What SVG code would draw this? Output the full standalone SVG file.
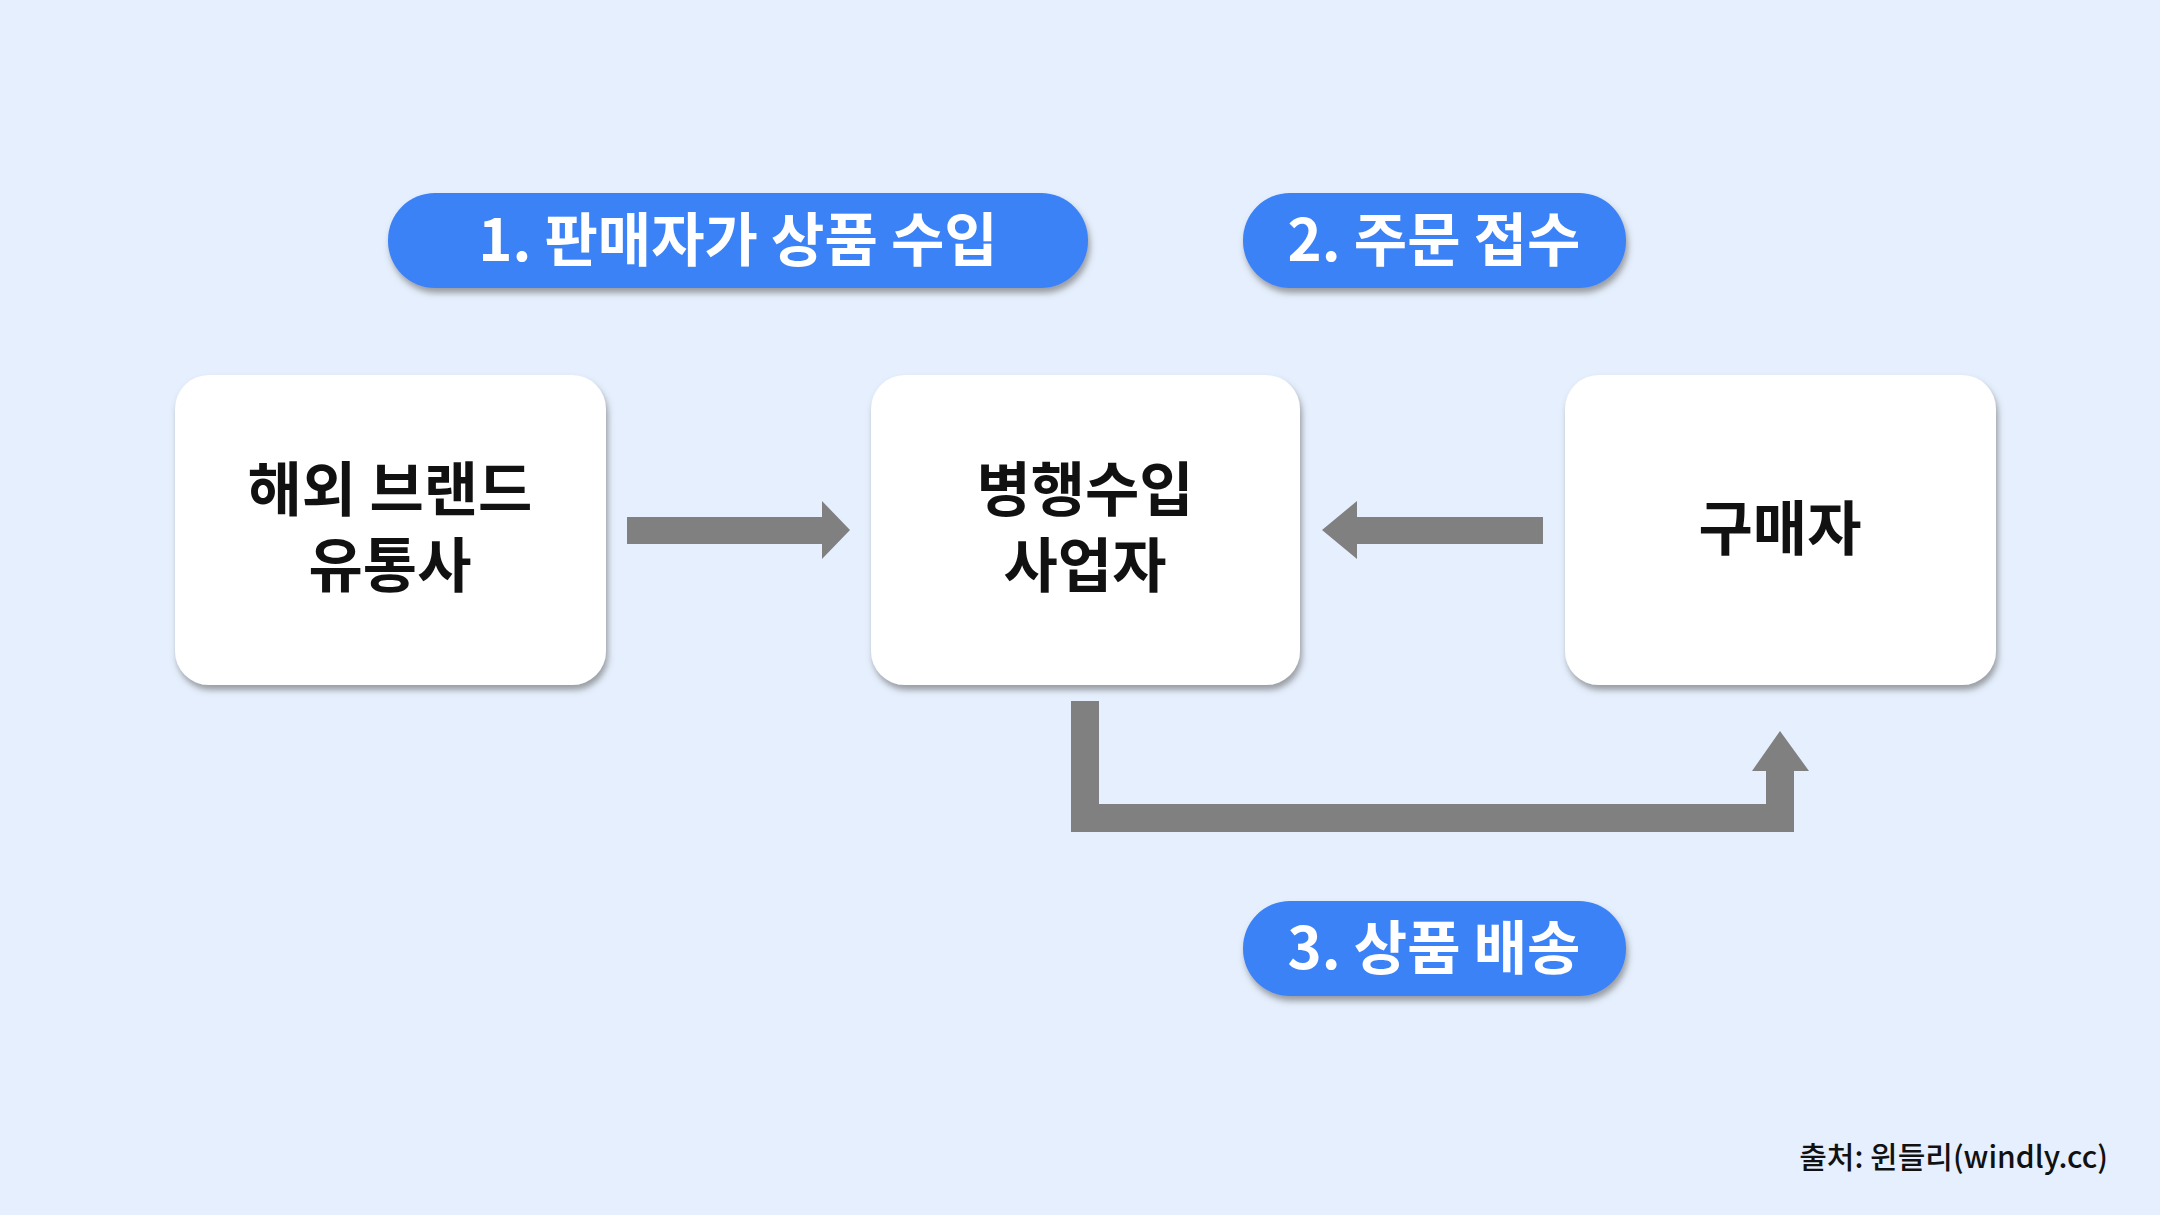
<svg xmlns="http://www.w3.org/2000/svg" width="2160" height="1215" viewBox="0 0 2160 1215">
<defs>
<filter id="sh" x="-10%" y="-10%" width="120%" height="130%"><feDropShadow dx="2" dy="5" stdDeviation="3" flood-color="#666" flood-opacity="0.6"/></filter>
<style>
.box{fill:#fff;filter:url(#sh)}
.pill{fill:#3b82f6;filter:url(#sh)}
.bt{font-family:"Noto Sans CJK KR","Noto Sans",sans-serif;font-weight:bold;font-size:59px;fill:#111;text-anchor:middle}
.pt{font-family:"Noto Sans CJK KR","Noto Sans",sans-serif;font-weight:bold;font-size:58px;fill:#fff;text-anchor:middle}
.ar{fill:#808080}
</style>
</defs>
<rect width="2160" height="1215" fill="#e5effd"/>
<g id="pill1"><rect class="pill" x="388" y="193" width="700" height="95" rx="47"/><text class="pt" x="738" y="261">1. 판매자가 상품 수입</text></g>
<g id="pill2"><rect class="pill" x="1243" y="193" width="383" height="95" rx="47"/><text class="pt" x="1434" y="261">2. 주문 접수</text></g>
<g id="pill3"><rect class="pill" x="1243" y="901" width="383" height="95" rx="47"/><text class="pt" x="1434" y="969">3. 상품 배송</text></g>
<g id="n1"><rect class="box" x="175" y="375" width="431" height="310" rx="34"/><text class="bt" x="390" y="511">해외 브랜드</text><text class="bt" x="390" y="587">유통사</text></g>
<g id="n2"><rect class="box" x="871" y="375" width="429" height="310" rx="34"/><text class="bt" x="1085" y="511">병행수입</text><text class="bt" x="1085" y="587">사업자</text></g>
<g id="n3"><rect class="box" x="1565" y="375" width="431" height="310" rx="34"/><text class="bt" x="1780" y="550">구매자</text></g>
<g id="connectors">
<polygon class="ar" points="627,517 822,517 822,501 850,530 822,559 822,544 627,544"/>
<polygon class="ar" points="1543,517 1357,517 1357,501 1322,530 1357,559 1357,544 1543,544"/>
<polygon class="ar" points="1071,701 1099,701 1099,804 1766,804 1766,771 1752,771 1780,731 1809,771 1794,771 1794,832 1071,832"/>
</g>
<text x="2108" y="1168" font-family="'Noto Sans CJK KR','Noto Sans',sans-serif" font-size="30" font-weight="500" fill="#111" text-anchor="end">출처: 윈들리(windly.cc)</text>
</svg>
